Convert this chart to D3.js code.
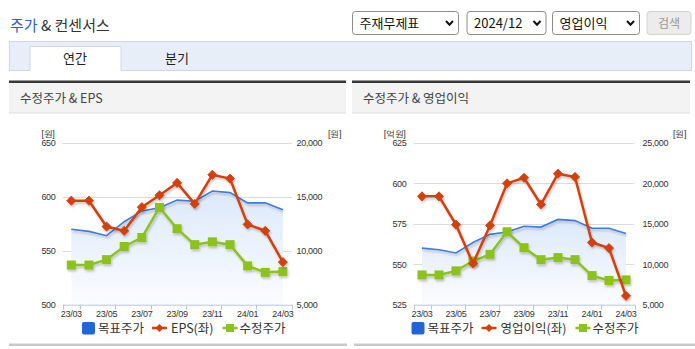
<!DOCTYPE html>
<html><head><meta charset="utf-8">
<script src="https://cdn.jsdelivr.net/npm/d3@7/dist/d3.min.js"></script>
<style>
html,body{margin:0;padding:0;background:#fff;}
svg{display:block;}
text{font-family:"Noto Sans CJK KR","Noto Sans",sans-serif;}
.tick-num{font-family:"Liberation Sans",Arial,sans-serif;font-size:9px;fill:#333;letter-spacing:-0.3px;}
</style></head>
<body>
<script>
// ---- data ----
const months = ["23/03","23/04","23/05","23/06","23/07","23/08","23/09","23/10","23/11","23/12","24/01","24/02","24/03"];
const xTickLabels = ["23/03","23/05","23/07","23/09","23/11","24/01","24/03"];
const targetPrice = [12000, 11800, 11400, 12700, 13700, 14000, 14700, 14600, 15550, 15400, 14450, 14450, 13800];
const adjPrice = [8680, 8680, 9180, 10400, 11230, 14020, 12050, 10570, 10830, 10570, 8600, 8000, 8070];
const eps = [596.5, 596.5, 572.5, 568.5, 590.5, 601.5, 613, 593.5, 620.5, 617, 574.5, 568.5, 539.5];
const opIncome = [592, 592, 574.5, 550.5, 574, 600, 603.5, 587, 606, 604, 563.5, 560, 530.5];
const epsTicks = [500, 550, 600, 650];
const opTicks = [525, 550, 575, 600, 625];
const priceTicksA = [5000, 10000, 15000, 20000];
const priceTicksB = [5000, 10000, 15000, 20000, 25000];
const selectLabels = ["주재무제표", "2024/12", "영업이익"];
const tabLabels = ["연간", "분기"];
const legendLabelsA = ["목표주가", "EPS(좌)", "수정주가"];
const legendLabelsB = ["목표주가", "영업이익(좌)", "수정주가"];

const W = 695, H = 349;
const svg = d3.select("body").append("svg").attr("width", W).attr("height", H);
const defs = svg.append("defs");
const grad = defs.append("linearGradient").attr("id","areaGrad").attr("x1",0).attr("y1",0).attr("x2",0).attr("y2",1);
grad.append("stop").attr("offset","0%").attr("stop-color","#dce9fa");
grad.append("stop").attr("offset","100%").attr("stop-color","#fbfcff");
const sh = defs.append("filter").attr("id","shadow").attr("x","-10%").attr("y","-10%").attr("width","130%").attr("height","140%");
sh.append("feDropShadow").attr("dx",1).attr("dy",2).attr("stdDeviation",1).attr("flood-color","#000").attr("flood-opacity",0.22);

// ---- header ----
const title = svg.append("text").attr("x",10).attr("y",31).attr("font-size",15);
title.append("tspan").attr("fill","#2a62c9").text("주가");
title.append("tspan").attr("fill","#333").text(" & 컨센서스");

const selBoxes = [{x:352.5,w:106},{x:467,w:79},{x:552.5,w:87}];
selBoxes.forEach((b,i)=>{
  svg.append("rect").attr("x",b.x).attr("y",11.5).attr("width",b.w).attr("height",23).attr("rx",3)
    .attr("fill","#fff").attr("stroke","#8c8c8c");
  svg.append("text").attr("x",b.x+7).attr("y",28).attr("font-size",13).attr("fill","#111").text(selectLabels[i]);
  const cx = b.x + b.w - 9, cy = 23;
  svg.append("path").attr("d",`M${cx-3.5},${cy-2} L${cx},${cy+1.8} L${cx+3.5},${cy-2}`)
    .attr("fill","none").attr("stroke","#111").attr("stroke-width",2);
});
svg.append("rect").attr("x",647).attr("y",11.5).attr("width",44).attr("height",23).attr("rx",3)
  .attr("fill","#ececec").attr("stroke","#d2d2d2");
svg.append("text").attr("x",669).attr("y",28).attr("text-anchor","middle").attr("font-size",12).attr("fill","#9a9a9a").text("검색");

// tabs
svg.append("rect").attr("x",9.5).attr("y",41.5).attr("width",682).attr("height",29).attr("fill","#e8eef8").attr("stroke","#cdd7e8");
svg.append("path").attr("d","M30,71 V46.5 H121 V71").attr("fill","#fff").attr("stroke","#cdd7e8");
svg.append("rect").attr("x",30.5).attr("y",69.5).attr("width",90).attr("height",2).attr("fill","#fff");
svg.append("text").attr("x",75).attr("y",63).attr("text-anchor","middle").attr("font-size",13).attr("fill","#222").text(tabLabels[0]);
svg.append("text").attr("x",177).attr("y",63).attr("text-anchor","middle").attr("font-size",13).attr("fill","#222").text(tabLabels[1]);

// ---- panels ----
function panel(x, w, label, bottomX0, bottomX1){
  svg.append("rect").attr("x",x).attr("y",83).attr("width",w).attr("height",30).attr("fill","#f3f3f3");
  svg.append("rect").attr("x",x).attr("y",112.5).attr("width",w).attr("height",1).attr("fill","#dedede");
  svg.append("rect").attr("x",x).attr("y",80.5).attr("width",w).attr("height",2.5).attr("fill","#383838");
  svg.append("text").attr("x",x+11).attr("y",103).attr("font-size",12.5).attr("fill","#444").text(label);
  svg.append("rect").attr("x",bottomX0).attr("y",343.5).attr("width",bottomX1-bottomX0).attr("height",2.5).attr("fill","#c9c9c9");
}
panel(9, 337, "수정주가 & EPS", 9, 347);
panel(352, 338, "수정주가 & 영업이익", 354, 695);

function diamondPath(s){ return `M0,${-s} L${s},0 L0,${s} L${-s},0Z`; }

function chart(cfg){
  const g = svg.append("g");
  const yTop = 143, yBot = 304.7;
  const x = d3.scaleBand().domain(months).range([cfg.x0, cfg.x1]).padding(0);
  const xc = d => x(d) + x.bandwidth()/2;
  const yL = d3.scaleLinear().domain(cfg.leftDomain).range([yBot, yTop]);
  const yR = d3.scaleLinear().domain(cfg.rightDomain).range([yBot, yTop]);

  // gridlines
  g.selectAll(".grid").data(cfg.leftTicks.slice(1)).enter().append("line")
    .attr("x1",cfg.x0).attr("x2",cfg.x1).attr("y1",d=>Math.round(yL(d))+0.5).attr("y2",d=>Math.round(yL(d))+0.5)
    .attr("stroke","#dcdcdc");

  // left axis labels
  const axL = d3.axisLeft(yL).tickValues(cfg.leftTicks).tickSize(0).tickPadding(0).tickFormat(d3.format("d"));
  const gl = g.append("g").attr("transform",`translate(${cfg.x0-7},0)`).call(axL);
  gl.select(".domain").remove();
  gl.selectAll("text").attr("class","tick-num");
  g.append("text").attr("class","tick-num").attr("x",cfg.x0-8).attr("y",137).attr("text-anchor","end").text(cfg.leftUnit);

  // right axis labels
  const axR = d3.axisRight(yR).tickValues(cfg.rightTicks).tickSize(0).tickPadding(0).tickFormat(d3.format(","));
  const gr = g.append("g").attr("transform",`translate(${cfg.rightLabelX},0)`).call(axR);
  gr.select(".domain").remove();
  gr.selectAll("text").attr("class","tick-num");
  g.append("text").attr("class","tick-num").attr("x",cfg.rightUnitX).attr("y",137).text("[원]");

  // area under target price
  const area = d3.area().x((d,i)=>xc(months[i])).y0(yBot).y1(d=>yR(d));
  g.append("path").datum(targetPrice).attr("d",area).attr("fill","url(#areaGrad)");

  // x-axis
  const ax = d3.axisBottom(x).tickValues(xTickLabels).tickSize(0).tickPadding(6);
  const gx = g.append("g").attr("transform",`translate(0,${yBot})`).call(ax);
  gx.select(".domain").attr("stroke","#b9c7da");
  gx.selectAll("text").attr("class","tick-num");
  const bounds = [0,1,3,5,7,9,11,13].map(k => cfg.x0 + k*x.bandwidth());
  g.selectAll(".xt").data(bounds).enter().append("line")
    .attr("x1",d=>Math.round(d)+0.5).attr("x2",d=>Math.round(d)+0.5).attr("y1",yBot).attr("y2",yBot+5)
    .attr("stroke","#b9c7da");

  // target price line
  const lineR = d3.line().x((d,i)=>xc(months[i])).y(d=>yR(d));
  g.append("path").datum(targetPrice).attr("d",lineR).attr("fill","none")
    .attr("stroke","#3f7bdb").attr("stroke-width",1.6).attr("filter","url(#shadow)");

  // adjusted price
  const gg = g.append("g").attr("filter","url(#shadow)");
  gg.append("path").datum(adjPrice).attr("d",lineR).attr("fill","none").attr("stroke","#8cc21e").attr("stroke-width",2.5);
  gg.selectAll("rect").data(adjPrice).enter().append("rect")
    .attr("x",(d,i)=>xc(months[i])-4.5).attr("y",d=>yR(d)-4.5).attr("width",9).attr("height",9).attr("fill","#8cc21e");

  // left series
  const lineL = d3.line().x((d,i)=>xc(months[i])).y(d=>yL(d));
  const gred = g.append("g").attr("filter","url(#shadow)");
  gred.append("path").datum(cfg.leftSeries).attr("d",lineL).attr("fill","none").attr("stroke","#d1400d").attr("stroke-width",2.5);
  gred.selectAll(".mk").data(cfg.leftSeries).enter().append("path")
    .attr("transform",(d,i)=>`translate(${xc(months[i])},${yL(d)})`)
    .attr("d",diamondPath(4.6)).attr("fill","#d1400d").attr("stroke","#d1400d").attr("stroke-width",0.8);

  // legend
  const lg = g.append("g");
  let lx = cfg.legendX; const ly = 333;
  lg.append("rect").attr("x",lx).attr("y",322).attr("width",13).attr("height",12.5).attr("rx",2).attr("fill","#1f67d8");
  lx += 16;
  let t = lg.append("text").attr("x",lx).attr("y",ly).attr("font-size",12.5).attr("fill","#333").text(cfg.legendLabels[0]);
  lx += t.node().getComputedTextLength() + 8;
  lg.append("line").attr("x1",lx).attr("x2",lx+15).attr("y1",328).attr("y2",328).attr("stroke","#d1400d").attr("stroke-width",2.5);
  lg.append("path").attr("transform",`translate(${lx+7.5},328)`).attr("d",diamondPath(4)).attr("fill","#d1400d");
  lx += 19;
  t = lg.append("text").attr("x",lx).attr("y",ly).attr("font-size",12.5).attr("fill","#333").text(cfg.legendLabels[1]);
  lx += t.node().getComputedTextLength() + 9;
  lg.append("line").attr("x1",lx).attr("x2",lx+15).attr("y1",328).attr("y2",328).attr("stroke","#8cc21e").attr("stroke-width",2.5);
  lg.append("rect").attr("x",lx+3.5).attr("y",324).attr("width",8).attr("height",8).attr("fill","#8cc21e");
  lx += 17;
  lg.append("text").attr("x",lx).attr("y",ly).attr("font-size",12.5).attr("fill","#333").text(cfg.legendLabels[2]);
}

chart({x0:62.5, x1:291.7, leftDomain:[500,650], leftTicks:epsTicks, rightDomain:[5000,20000], rightTicks:priceTicksA,
  leftUnit:"[원]", rightLabelX:296.5, rightUnitX:328, leftSeries:eps, legendLabels:legendLabelsA, legendX:82});
chart({x0:413.5, x1:634.5, leftDomain:[525,625], leftTicks:opTicks, rightDomain:[5000,25000], rightTicks:priceTicksB,
  leftUnit:"[억원]", rightLabelX:642.5, rightUnitX:673, leftSeries:opIncome, legendLabels:legendLabelsB, legendX:411.5});
</script>
</body></html>
